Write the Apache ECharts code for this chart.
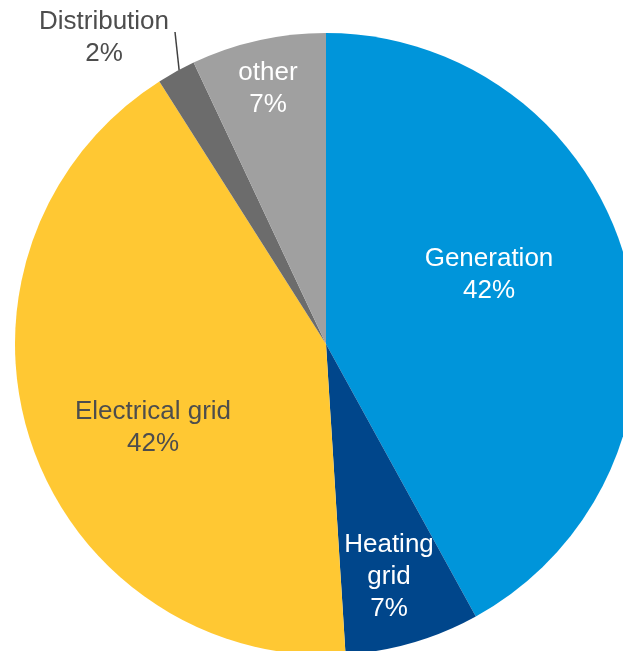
<!DOCTYPE html>
<html>
<head>
<meta charset="utf-8">
<script src="https://cdn.jsdelivr.net/npm/echarts@6/dist/echarts.min.js"></script>
<style>
  html, body { margin: 0; padding: 0; background: #ffffff; }
  #chart { width: 623px; height: 651px; }
</style>
</head>
<body>
<div id="chart"></div>
<script>
// Share of the total, by segment (percent)
const categories = ['Generation', 'Heating grid', 'Electrical grid', 'Distribution', 'other'];
const shares = [42, 7, 42, 2, 7];
const labelTexts = ['Generation', 'Heating\ngrid', 'Electrical grid', 'Distribution', 'other'];

const sliceColors = ['#0095DA', '#00468B', '#FFC833', '#6C6C6C', '#A0A0A0'];
const labelColors = ['#ffffff', '#ffffff', '#4D4D4D', '#4D4D4D', '#ffffff'];

// Label block centres (px) inside the chart
const labelSpots = {
  'Generation': [489, 275],
  'Heating grid': [389, 577],
  'Electrical grid': [153, 428],
  'Distribution': [104, 38],
  'other': [268, 89]
};

const chart = echarts.init(document.getElementById('chart'), null, { renderer: 'canvas' });

const data = categories.map((name, i) => ({
  name: name,
  value: shares[i],
  itemStyle: { color: sliceColors[i] },
  label: {
    color: labelColors[i],
    position: name === 'Distribution' ? 'outside' : 'inside',
    formatter: labelTexts[i] + '\n{d}%'
  },
  labelLine: { show: name === 'Distribution' }
}));

chart.setOption({
  animation: false,
  series: [{
    type: 'pie',
    center: [326, 344],
    radius: 311,
    startAngle: 90,
    clockwise: true,
    data: data,
    label: {
      show: true,
      fontFamily: '"Liberation Sans", Arial, sans-serif',
      fontSize: 26,
      lineHeight: 32,
      align: 'center'
    },
    labelLine: {
      show: true,
      length: 10,
      length2: 0,
      lineStyle: { color: '#404040', width: 1.5 }
    },
    labelLayout: function (params) {
      const name = categories[params.dataIndex];
      const spot = labelSpots[name];
      const res = { x: spot[0], y: spot[1], align: 'center', verticalAlign: 'middle' };
      if (name === 'Distribution' && params.labelLinePoints) {
        const start = params.labelLinePoints[0];
        const from = [start[0] + 3, start[1] - 1];
        const to = [spot[0] + 71, spot[1] - 6];
        res.labelLinePoints = [from, to, to];
      }
      return res;
    }
  }]
});
</script>
</body>
</html>
